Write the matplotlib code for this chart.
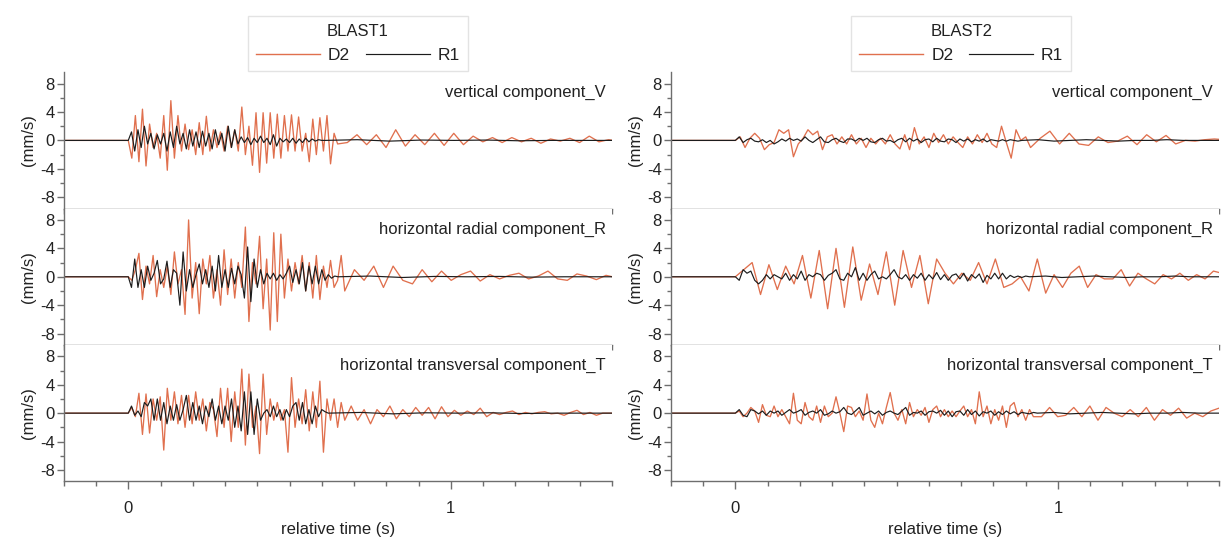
import numpy as np
import matplotlib.pyplot as plt
from matplotlib.ticker import MultipleLocator
from matplotlib.lines import Line2D

plt.rcParams['font.family'] = ['Liberation Sans', 'DejaVu Sans']
plt.rcParams['axes.unicode_minus'] = False

# start of the record (quiet part before the trigger at t = 0)
t_pre = -0.2

# ---------------- BLAST1 ----------------
# D2 burst: one value every 0.011 s from t = 0, then a slower tail
b1_v_d2 = [0, -2.5, 3.5, -3.0, 4.4, -3.6, 2.3, -1.0, 1.0, -2.5, 3.5, -4.2, 5.6, -2.5, 3.5, -1.5, 2.3, -1.3, 1.5, -2.0,
           2.5, -2.0, 3.4, -1.5, 1.5, -1.0, 1.2, -1.5, 2.0, -1.0, 1.5, -1.5, 4.7, -2.0, 2.0, -3.5, 3.9, -4.5, 3.9, -3.2,
           3.9, -2.5, 3.7, -2.5, 3.5, -1.5, 3.6, -1.5, 3.3, -1.5, 1.0, -3.0, 3.0, -2.0, 3.2, -1.5, 3.5, -3.3, 1.0, -0.5]
b1_v_d2_tail = [-0.3, 0.8, -0.6, 0.8, -1.0, 1.5, -0.8, 0.8, -0.6, 1.0, -0.7, 1.0, -0.6, 0.6, -0.2, 0.4, -0.3, 0.4,
                -0.2, 0.3, -0.4, 0.2, -0.1, 0.3, -0.3, 0.6, -0.2, 0.1, -0.1]

b1_r_d2 = [0, -0.5, 1.0, 3.3, -3.2, 1.5, -1.0, 3.0, -2.8, 1.0, -1.5, 1.5, -2.5, 3.5, -1.0, 1.0, -5.3, 8.0, -3.0, 2.0,
           -5.2, 2.5, -1.0, 3.0, -3.0, 1.0, -4.0, 3.8, -2.5, 2.5, -3.0, 2.0, -1.5, 7.0, -6.3, 2.0, -1.0, 5.7, -4.5, 2.5,
           -7.5, 6.2, -6.3, 6.0, -3.0, 2.5, -2.0, 2.0, -1.0, 3.0, -2.0, 2.0, -3.0, 3.0, -3.2, 1.5, -1.5, 2.3, -1.5, -0.5,
           3.0, -2.0]
b1_r_d2_tail = [1.0, -0.5, 1.5, -1.5, 1.5, -0.5, -1.0, 1.0, -0.7, 0.8, -0.5, 0.3, 0.8, -0.6, 0.3, -0.3, 0.2, 0.5,
                -0.3, 0.1, 0.8, -0.3, -0.5, 0.4, 0.1, -0.4, 0.2, -0.1]

b1_t_d2 = [0, 0.8, -0.5, 2.8, -3.0, 2.7, -2.8, 2.0, -1.0, 2.3, -5.2, 3.5, -1.0, 3.0, -1.5, 2.5, -2.0, 2.5, -1.5, 3.0,
           -1.0, 2.0, -2.5, 1.5, 0.5, -3.3, 3.5, -2.0, 3.5, -4.0, 3.0, -2.0, 6.2, -4.5, 5.5, -2.0, 1.0, -5.7, 5.5, -3.0,
           2.0, -1.0, 1.5, -1.0, 0.5, -5.5, 5.0, -2.0, 2.0, -1.5, 3.3, -2.5, 3.0, -2.0, 4.5, -5.5, 2.0, -1.0, 2.0, -2.0,
           1.5, -1.0]
b1_t_d2_tail = [1.0, -1.0, 0.5, -1.5, 0.5, -0.5, 1.0, -0.8, 0.5, -0.5, 0.8, -0.3, 0.8, -0.8, 0.9, -0.5, 0.4, -0.3,
                0.3, -0.2, 0.7, -0.5, 0.1, -0.2, 0.1, 0.3, -0.2, 0.1, -0.1, 0.1, 0.2, -0.1, 0.0, -0.3, 0.1, 0.4,
                -0.2, 0.1, -0.3, 0.0, 0.0, 0.0]

# R1: one value every 0.01 s, nearly silent afterwards
b1_v_r1 = [0, 1.2, -1.5, 1.5, -1.0, 2.0, -0.5, 1.0, -1.2, 0.8, -0.5, 1.0, -1.5, 1.2, -1.0, 2.0, -0.5, 1.0, -1.2, 1.5,
           -0.8, 1.2, -1.0, 1.3, -0.8, 1.0, -1.2, 1.5, -0.6, 1.0, -1.5, 2.0, -1.0, 1.5, -0.5, 0.5, -0.3, 0.4, -0.6, 0.3,
           -0.3, 0.6, -0.3, 0.3, -0.6, 0.8, -0.8, 0.3, -0.2, 0.2, -0.3, 0.3, -0.4, 0.2, -0.3, 0.3, -0.2, 0.2, -0.1, 0.1,
           0.0, 0.0]
b1_r_r1 = [0, -1.5, 2.5, -1.5, 1.0, -1.5, 1.5, -0.5, 0.5, 2.3, -1.0, -0.3, 2.2, -1.5, 1.0, 0.5, -4.0, 3.5, -2.0, 1.0,
           -1.5, 0.3, 1.8, -1.0, 1.0, -1.5, 1.5, -2.0, 3.0, -1.5, 1.0, -1.5, 1.2, -1.0, 1.5, 0.3, -3.0, 4.2, -3.5, 2.5,
           -1.5, 1.0, -1.0, 0.5, -0.3, 0.5, -0.5, 0.3, -0.3, 0.5, 1.5, -0.8, 1.0, -1.0, 2.0, -2.0, 1.5, -1.0, 1.5, -1.0,
           1.0, -0.5, 0.3, -0.2, 0.1, 0.0]
b1_t_r1 = [0, 1.0, -0.3, 0.3, -0.5, 1.5, 1.0, 2.0, -1.0, 2.0, -1.0, 1.5, -1.5, 1.0, -1.0, 1.2, -1.0, 0.5, 2.5, -1.0,
           1.5, -1.0, 1.0, -1.5, 1.0, -0.5, 2.0, -1.0, 1.0, -1.5, 1.0, -1.0, 2.0, -2.0, 1.0, -2.5, 3.0, -3.0, 3.0, -3.0,
           2.0, -1.0, 0.0, 0.5, -0.5, 1.0, -0.5, 0.5, -1.0, 0.5, -0.5, 1.0, 1.5, -1.0, 1.5, -1.5, 0.5, -1.5, 1.0, -0.5,
           0.5, 0.2, 0.0]
b1_r1_tail = [0.1, -0.1, 0.05, 0.0, 0.05, -0.05, 0.0, 0.0, 0.0, 0.0]

# ---------------- BLAST2 ----------------
b2_v_d2 = [0, 0.5, -1.0, 0.3, 1.0, 0.3, -1.3, -0.6, -0.3, 1.5, 1.0, 1.5, -2.3, -0.5, 0.3, 1.5, 0.8, 1.3, -1.3, 0.5,
           0.8, -0.5, 0.5, -0.5, 0.8, -0.5, 0.3, -1.0, 0.3, -0.5, 0.3, -0.5, 0.8, -0.5, -1.2, 0.8, -1.3, 1.8, -0.5, 0.5,
           -1.0, 1.0, -0.3, 0.8, -0.5, 0.5, -0.3, -1.0, 0.5, -0.5, 0.8, -0.3, 1.0, -0.5, -1.0, 2.0, -0.3, -2.5, 1.5, 0.0,
           0.5, -1.0]
b2_v_d2_tail = [0.3, 1.3, -0.5, 1.0, -0.5, -0.7, 0.5, -0.3, -0.1, 0.6, -0.6, 0.8, -0.2, 0.7, -0.5, 0.0, -0.1, 0.1,
                0.2, 0.1]

b2_r_d2 = [0, 1.0, 2.0, -2.5, 1.7, -1.8, 1.5, -1.0, 3.0, -3.0, 3.7, -4.5, 4.0, -4.3, 4.2, -3.3, 1.8, -2.5, 3.5, -4.0,
           3.7, -1.5, 3.0, -3.8, 2.5, 0.5, -1.0, 0.5, -0.5, 2.0, -1.0, 2.5, -1.5, -1.0, 0.0, -2.0, 2.5, -2.3, 0.3, -1.5,
           0.5, 1.5, -1.5, 0.3, -0.3, -0.3, 1.0, -1.3, 0.5, -0.3, -1.0, 0.3, -0.3, 0.5, -0.5, 0.3, -0.3, 0.8, 0.5]
b2_r_d2_tail = []

b2_t_d2 = [0, 0.3, -0.5, 0.0, 0.8, 0.3, -1.3, 1.2, -0.3, -0.5, 1.0, -0.5, 0.5, -0.5, -1.5, 2.8, -1.0, -1.5, 1.5, -0.5,
           -1.0, 1.0, -1.3, 1.0, -0.5, 0.0, 2.3, 0.0, -2.6, 1.0, 0.8, -0.5, 0.3, -1.0, 2.7, -1.0, -2.0, 0.0, -1.5, 0.8,
           2.9, 0.0, -1.0, 0.5, -1.5, 1.5, -0.5, 0.5, -0.3, 0.8, -1.3, 0.5, 1.0, -0.5, 0.5, -0.5, 0.3, -0.5, 0.3, 1.0,
           -0.5, 0.5, -1.5, 3.0, -0.5, 1.0, -1.5, 0.5, -1.0, 1.0, -2.0, 1.0, 1.5, -0.5, 0.5, -1.0, 0.5, -0.5]
b2_t_d2_tail = [-0.5, 0.8, -0.5, -0.3, 0.8, -0.5, 1.0, -1.0, 0.8, 0.0, -0.5, 0.5, -0.5, 0.8, -1.0, 0.5, -0.3, 0.7,
                -0.7, 0.0, -0.5, 0.3, 0.7, 0.3]

b2_v_r1 = [0, 0.5, -0.3, 0.1, 0.3, -0.1, -0.2, 0.1, -0.3, 0.0, -0.5, -0.2, 0.2, -0.1, 0.3, 0.0, 0.2, -0.1, 0.5, 0.0,
           -0.3, 0.1, 0.5, -0.2, -0.3, 0.1, 0.3, -0.1, -0.3, 0.2, 0.2, -0.1, 0.3, 0.0, 0.3, -0.2, -0.3, 0.1, 0.3, -0.1,
           0.0, -0.3, 0.1, 0.3, -0.2, 0.3, -0.1, 0.2, -0.3, 0.1, 0.2, -0.2, 0.3, -0.1, -0.2, 0.2, 0.1, -0.3, 0.2, -0.1,
           0.2, -0.2, 0.1, -0.1, 0.2, -0.2, 0.1, 0.0, -0.1, 0.1, -0.1, 0.1, 0.0, -0.1, 0.0]
b2_r_r1 = [0, -0.5, 1.0, 0.5, 0.8, -0.5, -1.0, -0.5, 0.3, -0.3, 0.3, 0.0, -0.3, 0.5, -0.5, 0.3, -0.3, 0.8, -0.5, 0.3,
           0.0, 0.5, 0.3, -0.5, 0.2, 0.5, 1.0, -0.3, -0.5, 0.5, 0.0, 1.3, -0.5, 0.5, -0.5, 0.3, 0.8, -0.3, 0.0, -0.3,
           0.3, 1.0, 0.0, -0.3, 0.3, -0.5, 0.3, -0.2, 0.5, -0.5, 0.3, -0.3, 0.6, -0.4, 0.3, -0.5, 0.2, 0.4, -0.3, 0.5,
           -0.6, 0.3, -0.2, 0.4, -0.8, 0.2, -0.3, 0.5, -0.3, 0.5, -0.3, 0.2, -0.1, 0.1, -0.1, 0.1, 0.0]
b2_t_r1 = [0, 0.5, -0.3, -0.5, 0.5, 0.3, -0.1, 0.3, -0.3, 0.3, 0.0, 0.3, -0.3, 0.1, 0.5, 0.0, 0.2, 0.5, -0.3, 0.1,
           0.3, 0.0, 0.5, -0.3, -0.1, 0.3, 0.0, 0.2, 0.8, 0.0, -0.2, 0.3, 0.8, -0.3, 0.0, 0.3, -0.1, 0.3, -0.3, 0.1,
           0.3, 0.0, -0.2, 0.3, 0.8, -0.3, 0.1, 0.0, 0.3, -0.3, 0.2, 0.3, 0.0, 0.4, -0.3, 0.3, -0.5, 0.2, 0.3, -0.3,
           0.5, -0.2, 0.3, -0.4, 0.2, 0.0, 0.3, -0.3, 0.2, -0.2, 0.3, -0.1, 0.2, -0.2, 0.1, 0.0, -0.1, 0.1, 0.0]
b2_r1_tail = [0.1, -0.1, 0.0, 0.1, 0.0, -0.1, 0.0, 0.0, 0.1, 0.0, 0.0, 0.0, 0.0]

components = ["vertical component_V", "horizontal radial component_R", "horizontal transversal component_T"]
blasts = ["BLAST1", "BLAST2"]

# (burst, step, tail, tail step) for D2 and R1, per blast and component
d2_data = [
    [(b1_v_d2, 0.011, b1_v_d2_tail, 0.03), (b1_r_d2, 0.011, b1_r_d2_tail, 0.03), (b1_t_d2, 0.011, b1_t_d2_tail, 0.02)],
    [(b2_v_d2, 0.015, b2_v_d2_tail, 0.03), (b2_r_d2, 0.026, b2_r_d2_tail, 0.03), (b2_t_d2, 0.012, b2_t_d2_tail, 0.025)],
]
r1_data = [
    [(b1_v_r1, 0.01, b1_r1_tail, 0.1), (b1_r_r1, 0.01, b1_r1_tail, 0.1), (b1_t_r1, 0.01, b1_r1_tail, 0.1)],
    [(b2_v_r1, 0.012, b2_r1_tail, 0.05), (b2_r_r1, 0.012, b2_r1_tail, 0.05), (b2_t_r1, 0.012, b2_r1_tail, 0.05)],
]

col_d2 = '#E0704E'
col_r1 = '#1c1c1c'
axis_col = '#6e6e6e'


def trace(burst, dt_burst, tail, dt_tail):
    t_b = np.arange(len(burst)) * dt_burst
    t_t = t_b[-1] + dt_tail * np.arange(1, len(tail) + 1)
    t = np.concatenate([[t_pre], t_b, t_t])
    v = np.concatenate([[0.0], burst, tail])
    return t, v


fig, axes = plt.subplots(3, 2, figsize=(12.26, 5.39), dpi=100)
fig.subplots_adjust(left=0.052, right=0.9945, top=0.866, bottom=0.107, hspace=0, wspace=0.107)

for c in range(2):
    for r in range(3):
        ax = axes[r, c]
        ax.plot(*trace(*d2_data[c][r]), color=col_d2, lw=0.95, solid_joinstyle='round')
        ax.plot(*trace(*r1_data[c][r]), color=col_r1, lw=0.85, solid_joinstyle='round')

        ax.set_xlim(-0.2, 1.5)
        ax.set_ylim(-9.6, 9.6)
        ax.set_yticks([-8, -4, 0, 4, 8])
        ax.yaxis.set_minor_locator(MultipleLocator(2))
        ax.set_xticks([0, 1])
        ax.xaxis.set_minor_locator(MultipleLocator(0.1))

        for s in ['top', 'right']:
            ax.spines[s].set_visible(False)
        for s in ['left', 'bottom']:
            ax.spines[s].set_color(axis_col)
            ax.spines[s].set_linewidth(1.0)

        ax.tick_params(axis='y', which='major', length=5, width=1, color=axis_col, pad=1.5, labelsize=12,
                       labelcolor='#222222')
        ax.tick_params(axis='y', which='minor', length=3, width=1, color=axis_col)
        ax.tick_params(axis='x', which='major', length=5.5, width=1, color=axis_col, pad=9, labelsize=12,
                       labelcolor='#222222')
        ax.tick_params(axis='x', which='minor', length=3.5, width=1, color=axis_col)
        if r < 2:
            ax.tick_params(axis='x', labelbottom=False)

        ax.set_ylabel("(mm/s)", fontsize=12, labelpad=3, color='#222222')
        ax.text(0.988, 0.905, components[r], transform=ax.transAxes, ha='right', va='top', fontsize=12,
                color='#222222')

    axes[2, c].set_xlabel("relative time (s)", fontsize=12, labelpad=4, color='#222222')

    handles = [Line2D([], [], color=col_d2, lw=1.0), Line2D([], [], color=col_r1, lw=0.85)]
    leg = axes[0, c].legend(handles, ["D2", "R1"], title=blasts[c], ncol=2, loc='lower center',
                            bbox_to_anchor=([0.292, 0.784][c], 0.868), bbox_transform=fig.transFigure,
                            borderaxespad=0, fontsize=12.5, title_fontsize=12, handlelength=3.7,
                            handletextpad=0.45, columnspacing=0.9, frameon=True, fancybox=False,
                            borderpad=0.45, labelspacing=0.55)
    leg.get_frame().set_edgecolor('#dddddd')
    leg.get_frame().set_linewidth(1.0)
    for txt in leg.get_texts():
        txt.set_color('#222222')
    leg.get_title().set_color('#222222')

fig.savefig("out.png", dpi=100)
